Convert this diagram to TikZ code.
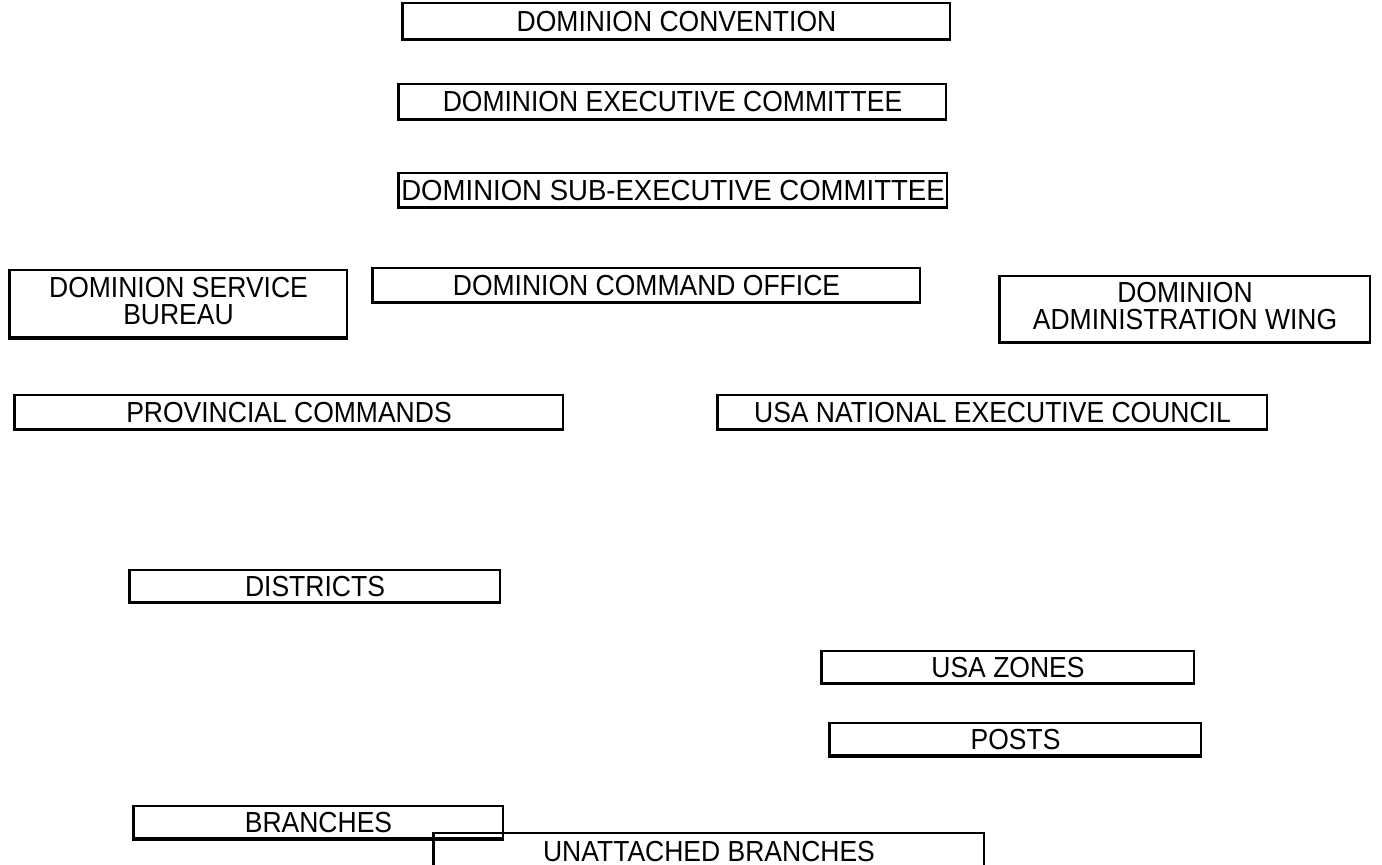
\documentclass[tikz,border=0pt]{standalone}
\usepackage{fontspec}
\setmainfont[FakeStretch=0.914]{Liberation Sans}
\newfontfamily\subfont[FakeStretch=0.95]{Liberation Sans}
\usepackage{tikz}

\begin{document}
\begin{tikzpicture}[x=0.5pt, y=-0.5pt,
  orgbox/.style={draw, line width=1pt, inner sep=0pt, text depth=0pt,
    font=\fontsize{14.5pt}{13.5pt}\selectfont},
  twoline/.style={orgbox, align=center, text depth=\dp\strutbox}]
%% Page
\useasboundingbox[fill=white] (0,0) rectangle (1382,865);
%% Top of the organisation
\node[orgbox, minimum width=273.5pt, minimum height=18pt] (conv) at (676.5,21) {DOMINION CONVENTION};
\node[orgbox, minimum width=273.5pt, minimum height=17.5pt] (exec) at (672.5,101.5) {DOMINION EXECUTIVE COMMITTEE};
\node[orgbox, minimum width=274pt, minimum height=17pt,
  font=\subfont\fontsize{14.5pt}{13.5pt}\selectfont] (subexec) at (673,190) {DOMINION SUB-EXECUTIVE COMMITTEE};
%% Offices
\node[twoline, minimum width=168.5pt, minimum height=33.5pt] (service) at (178.5,304) {DOMINION SERVICE\\BUREAU};
\node[orgbox, minimum width=273.5pt, minimum height=17pt] (cmdoffice) at (646.5,285) {DOMINION COMMAND OFFICE};
\node[twoline, minimum width=185pt, minimum height=33pt] (adminwing) at (1185,309) {DOMINION\\ADMINISTRATION WING};
%% Commands and council
\node[orgbox, minimum width=274pt, minimum height=17pt] (provcmds) at (289,412) {PROVINCIAL COMMANDS};
\node[orgbox, minimum width=274.5pt, minimum height=17pt] (usanec) at (992.5,412) {USA NATIONAL EXECUTIVE COUNCIL};
%% Lower levels
\node[orgbox, minimum width=185pt, minimum height=16pt] (districts) at (315,586) {DISTRICTS};
\node[orgbox, minimum width=186pt, minimum height=16pt] (usazones) at (1008,667) {USA ZONES};
\node[orgbox, minimum width=185.5pt, minimum height=16pt] (posts) at (1015.5,739) {POSTS};
\node[orgbox, minimum width=184.5pt, minimum height=16pt] (branches) at (318.5,822) {BRANCHES};
\node[orgbox, minimum width=275pt, minimum height=18pt] (unattached) at (709,851) {UNATTACHED BRANCHES};
%% Heavier left and bottom edges
\foreach \n in {conv,exec,subexec,service,cmdoffice,adminwing,provcmds,usanec,districts,usazones,posts,branches,unattached}
  \draw[line width=1.5pt] (\n.north west) -- (\n.south west) -- (\n.south east);
\end{tikzpicture}
\end{document}
